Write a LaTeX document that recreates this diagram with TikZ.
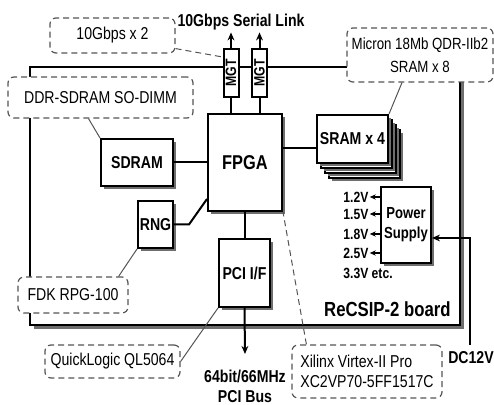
\documentclass[tikz,border=0pt]{standalone}
\usepackage{fontspec}
\setmainfont[FakeStretch=0.82]{Liberation Sans}
\usepackage{tikz}
\usetikzlibrary{arrows.meta, positioning, shadows, calc}
\definecolor{notegris}{RGB}{85,85,85}
\definecolor{ombre}{RGB}{110,110,110}

\begin{document}
\begin{tikzpicture}[x=0.5pt, y=-0.5pt,
    blk/.style={draw, line width=1pt, fill=white, inner sep=0pt, align=center,
        font=\fontsize{8.6}{10}\selectfont\bfseries,
        drop shadow={shadow xshift=1.5pt, shadow yshift=-1.5pt, fill=ombre, opacity=1}},
    note/.style={draw=notegris, densely dashed, line width=0.6pt, rounded corners=3pt,
        fill=white, inner sep=0pt, align=center, font=\fontsize{8.6}{10}\selectfont},
    mgt/.style={draw, line width=1pt, fill=white, inner sep=0pt,
        minimum width=7.5pt, minimum height=24pt, font=\fontsize{7.5}{8}\selectfont\bfseries},
    lbl/.style={inner sep=1pt, align=center, font=\fontsize{8.6}{10}\selectfont\bfseries},
    volt/.style={inner sep=0.5pt, font=\fontsize{7.4}{8}\selectfont\bfseries},
    wire/.style={line width=1pt},
    pointer/.style={draw=notegris, line width=0.5pt}]
    \useasboundingbox (0,0) rectangle (494,405);

    \node[draw, line width=1pt, fill=white, inner sep=0pt, minimum width=215pt, minimum height=129pt,
        drop shadow={shadow xshift=2pt, shadow yshift=-2pt, fill=ombre, opacity=1}] (board) at (245,196) {};
    \node[lbl, anchor=south east, font=\fontsize{10.2}{12}\selectfont\bfseries] (boardname)
        at ($(board.south east)+(-4pt,3.5pt)$) {ReCSIP-2 board};

    \node[note, minimum width=62.5pt, minimum height=17.5pt] (gbps) at (112.5,35.5) {10Gbps x 2};
    \node[note, minimum width=92.5pt, minimum height=20.5pt] (ddr) at (100.5,97.5) {DDR-SDRAM SO-DIMM};
    \node[note, minimum width=55pt, minimum height=18pt] (fdk) at (73,295) {FDK RPG-100};
    \node[note, minimum width=67.5pt, minimum height=16.5pt] (ql) at (112.5,361.5) {QuickLogic QL5064};
    \node[note, minimum width=75pt, minimum height=26.5pt, align=left] (xil) at (367,371.5)
        {Xilinx Virtex-II Pro\\XC2VP70-5FF1517C};
    \node[note, minimum width=73pt, minimum height=27pt, font=\fontsize{8.1}{11.5}\selectfont] (micron)
        at (420,55) {Micron 18Mb QDR-IIb2\\SRAM x 8};

    \node[blk, minimum width=37pt, minimum height=48.5pt, font=\fontsize{10}{12}\selectfont\bfseries] (fpga)
        at (245,162.5) {FPGA};
    \node[blk, minimum width=36pt, minimum height=23.5pt] (sdram) at (137,162.5) {SDRAM};
    \node[blk, minimum width=17.5pt, minimum height=23.5pt] (rng) at (155.5,224.5) {RNG};
    \node[blk, minimum width=25.5pt, minimum height=34pt] (pci) at (244.5,273) {PCI I/F};
    \node[blk, minimum width=25pt, minimum height=38pt, font=\fontsize{8}{10}\selectfont\bfseries] (power)
        at (406,225) {Power\\Supply};
    \foreach \k in {3,2,1}
        \node[blk, minimum width=35.5pt, minimum height=24pt] (sram\k) at (352.5+4*\k,139+5*\k) {};
    \node[blk, minimum width=35.5pt, minimum height=24pt] (sram) at (352.5,139) {SRAM x 4};

    \node[mgt] (mgt1) at (231,73) {\rotatebox{90}{MGT}};
    \node[mgt] (mgt2) at (259.5,73) {\rotatebox{90}{MGT}};
    \node[lbl] (link) at (241,22) {10Gbps Serial Link};

    \foreach \v/\y/\n in {1.2V/197/a, 1.5V/214/b, 1.8V/234/c, 2.5V/253/d} {
        \node[volt, anchor=west] (v\n) at (342,\y) {\v};
        \draw[line width=0.8pt, -{Stealth[length=3pt,width=2.6pt]}] (power.west |- v\n) -- (v\n.east);
    }
    \node[volt, anchor=west] (vetc) at (342,273) {3.3V etc.};

    \coordinate (bus) at (245,354);
    \node[lbl] (pcibus) at (245,386) {64bit/66MHz\\PCI Bus};
    \coordinate (dcin) at (470,345);
    \node[lbl] (dc) at (471,358) {DC12V};

    \draw[wire] (sdram) -- (fpga);
    \draw[wire] (rng.east) -- ++(7.5pt,0) -- ($(fpga.south west)+(0,6.5pt)$);
    \draw[wire] (fpga.east |- 0,148) -- (sram.west |- 0,148);
    \draw[wire] (fpga.south -| pci) -- (pci.north);
    \draw[wire, -{Stealth[length=4pt,width=3.4pt]}] (pci.south) -- (bus);
    \draw[wire] (mgt1.south) -- (mgt1.south |- fpga.north);
    \draw[wire] (mgt2.south) -- (mgt2.south |- fpga.north);
    \draw[wire, -{Stealth[length=4pt,width=3.4pt]}] (mgt1.north) -- (mgt1.north |- link.south);
    \draw[wire, -{Stealth[length=4pt,width=3.4pt]}] (mgt2.north) -- (mgt2.north |- link.south);
    \draw[wire, -{Stealth[length=4pt,width=3.4pt]}] (dcin) |- ($(power.east)+(0,-6.5pt)$);

    \draw[pointer, densely dashed] ($(gbps.south east)+(0,2.5pt)$) -- ($(mgt1.north west)+(0,-4.5pt)$);
    \draw[pointer] ($(ddr.south)+(-6pt,0)$) -- (sdram.north west);
    \draw[pointer] ($(fdk.north east)+(-5pt,0)$) -- (rng.south west);
    \draw[pointer] (ql.east) -- (pci.south west);
    \draw[pointer, densely dashed] ($(xil.north west)+(7.5pt,0)$) -- (fpga.south east);
    \draw[pointer] ($(micron.south)+(-9pt,0)$) -- (sram.north east);
\end{tikzpicture}
\end{document}
